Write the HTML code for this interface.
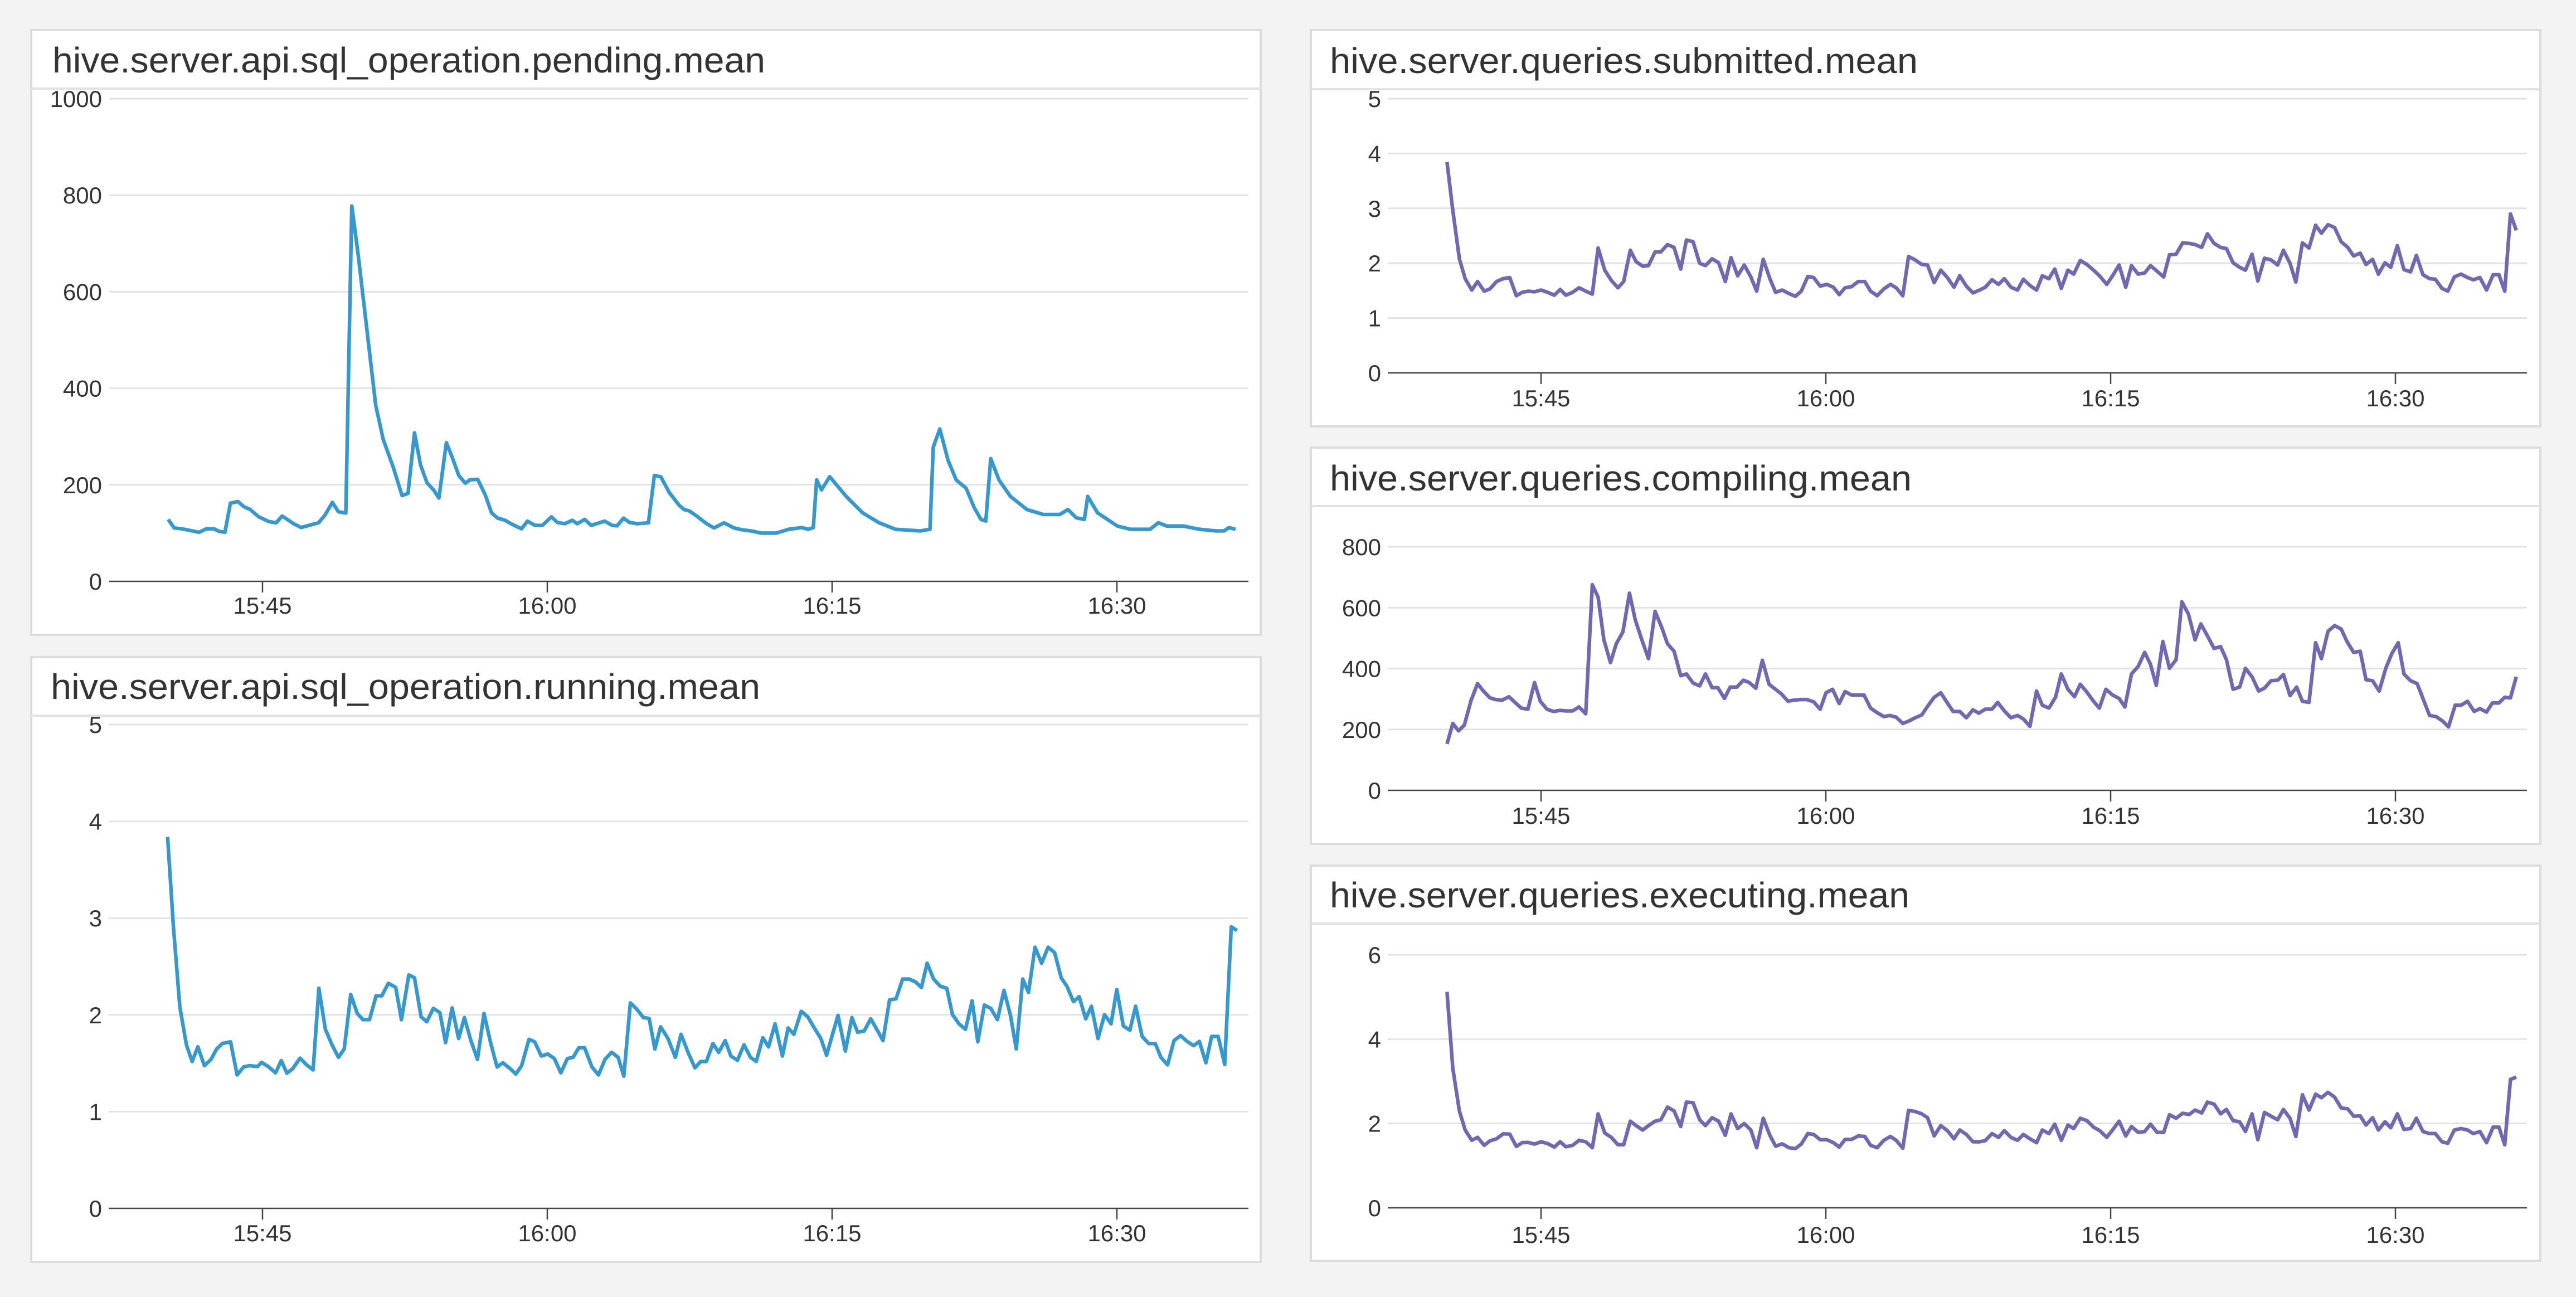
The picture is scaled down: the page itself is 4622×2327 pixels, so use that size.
<!DOCTYPE html>
<html><head><meta charset="utf-8"><style>
html,body{margin:0;padding:0;background:#f3f3f3;}
svg{display:block;}
text{font-family:"Liberation Sans",sans-serif;fill:#333;}
</style></head><body>
<svg id="s" xmlns="http://www.w3.org/2000/svg" width="4622" height="2327" viewBox="0 0 4622 2327"></svg>
<script>
var NS="http://www.w3.org/2000/svg",S=document.getElementById('s');
function el(t,a,txt){var e=document.createElementNS(NS,t);for(var k in a)e.setAttribute(k,a[k]);if(txt!=null)e.textContent=txt;S.appendChild(e);return e;}
function panel(p){
 el('rect',{x:p.l,y:p.t,width:p.r-p.l,height:p.b-p.t,fill:'#fff',stroke:'#dcdcdc','stroke-width':4});
 el('line',{x1:p.l,x2:p.r,y1:p.hb,y2:p.hb,stroke:'#e2e2e2','stroke-width':4});
 el('text',{x:p.tx,y:p.tb,'font-size':64,textLength:p.tw,lengthAdjust:'spacingAndGlyphs'},p.title);
 for(var i=0;i<p.ticks.length;i++){
  var v=p.ticks[i],y=p.y0+(p.y1-p.y0)*v/p.vmax;
  if(v>0)el('line',{x1:p.pl,x2:p.pr,y1:y,y2:y,stroke:'#e3e3e3','stroke-width':3});
  el('text',{x:p.lx,y:y+15,'font-size':42,'text-anchor':'end'},String(v));
 }
 el('line',{x1:p.pl,x2:p.pr,y1:p.y0,y2:p.y0,stroke:'#444','stroke-width':2.5});
 var tl=['15:45','16:00','16:15','16:30'];
 for(var j=0;j<4;j++){var x=p.t0+j*511;
  el('line',{x1:x,x2:x,y1:p.y0,y2:p.y0+20,stroke:'#444','stroke-width':2.5});
  el('text',{x:x,y:p.ly+15,'font-size':42,'text-anchor':'middle'},tl[j]);}
 var pts=[];for(var k=0;k<p.d.length;k+=2){pts.push(p.fx(p.d[k]).toFixed(1)+','+p.fy(p.d[k+1]).toFixed(1));}
 el('polyline',{points:pts.join(' '),fill:'none',stroke:p.c,'stroke-width':6.5,'stroke-linejoin':'round'});
}
var BLUE='#3599cf',PUR='#7467b1';
var pendZ=[338,1218,350,1238,365,1240,400,1248,415,1240,430,1240,440,1246,452,1248,463,1180,478,1176,490,1188,503,1195,520,1212,540,1223,555,1226,567,1210,590,1228,605,1237,640,1226,653,1208,668,1178,680,1200,695,1203,707,483,720,600,740,800,755,950,770,1030,790,1095,808,1162,820,1157,833,1015,845,1090,858,1132,872,1150,882,1168,897,1038,908,1070,922,1115,935,1133,945,1125,960,1124,975,1160,988,1203,1000,1215,1015,1220,1030,1230,1048,1240,1060,1222,1075,1232,1090,1232,1108,1212,1120,1225,1135,1228,1150,1220,1160,1228,1175,1218,1188,1232,1215,1222,1230,1232,1240,1233,1253,1215,1265,1225,1280,1228,1303,1226,1315,1115,1328,1118,1345,1155,1365,1185,1375,1195,1385,1198,1400,1210,1420,1228,1435,1238,1455,1226,1475,1238,1490,1242,1510,1245,1530,1250,1560,1250];
var pendM=[480,322,488,321,492,322,495,321,497,292,500,298,505,290,515,302,525,312,535,318,545,322,560,323,566,322,568,272,572,261,577,280,582,292,588,297,593,309,597,316,600,317,603,279,608,292,615,302,625,310,635,313,645,313,650,310,655,315,660,316,662,302,668,312,680,320,688,322,700,322,705,318,710,320,720,320,730,322,740,323,745,323,748,321,752,322];
var pend=[];for(var i=0;i<pendZ.length;i+=2)pend.push(pendZ[i]/1.12,pendZ[i+1]/1.307);
for(var i=0;i<pendM.length;i+=2)pend.push(pendM[i]*2.948,pendM[i+1]*2.949);
panel({l:56,t:54,r:2262,b:1139,hb:159,tx:94,tb:130,tw:1279,title:'hive.server.api.sql_operation.pending.mean',
 pl:196,pr:2240,y0:1043,y1:177,vmax:1000,ticks:[0,200,400,600,800,1000],lx:183,t0:471,ly:1086,c:BLUE,d:pend,
 fx:function(x){return x},fy:function(y){return y}});
var run=[205,468,212,680,220,875,228,965,235,1005,242,970,250,1015,258,1000,265,975,272,962,282,958,290,1037,298,1018,305,1015,315,1017,320,1007,328,1017,337,1032,344,1003,351,1033,358,1022,367,997,375,1013,383,1025,390,830,398,928,406,965,414,995,421,975,429,845,437,890,444,905,452,905,460,848,467,848,475,818,484,828,491,905,500,798,507,805,515,898,522,910,530,878,538,888,545,960,553,877,561,950,568,900,576,955,584,1000,592,890,600,960,608,1018,615,1008,624,1022,631,1035,638,1015,647,952,654,958,662,992,670,987,678,998,686,1032,694,998,701,995,708,972,715,972,724,1018,732,1037,740,1000,748,983,756,995,763,1040,771,865,778,878,787,900,794,902,801,975,808,922,817,950,826,995,833,940,842,985,850,1020,857,1005,864,1005,872,962,879,983,887,955,894,992,902,1002,910,965,918,995,925,1005,933,948,940,970,948,915,957,992,964,925,971,940,980,885,988,898,996,925,1004,950,1011,990,1018,942,1025,895,1034,980,1042,900,1049,935,1057,932,1065,903,1073,930,1080,955,1088,858,1096,855,1104,808,1112,808,1120,815,1127,828,1134,770,1142,808,1150,825,1158,830,1165,893,1173,915,1181,928,1189,860,1196,958,1204,870,1212,878,1220,905,1228,835,1236,895,1243,975,1251,808,1258,840,1266,732,1274,770,1282,732,1290,745,1298,805,1305,825,1313,862,1320,850,1328,903,1335,873,1343,950,1351,893,1359,915,1366,833,1374,920,1382,930,1389,873,1397,945,1405,962,1413,962,1420,995,1428,1013,1436,955,1444,943,1452,957,1460,967,1467,957,1475,1008,1482,945,1490,945,1498,1012,1506,683,1513,692];
panel({l:56,t:1179,r:2262,b:2264,hb:1284,tx:91,tb:1254,tw:1273,title:'hive.server.api.sql_operation.running.mean',
 pl:195,pr:2240,y0:2168,y1:1300,vmax:5,ticks:[0,1,2,3,4,5],lx:183,t0:471,ly:2212,c:BLUE,d:run,
 fx:function(x){return x/0.6817},fy:function(y){return y/1.332+1150}});
var sub=[200,285,207,370,215,455,222,490,230,510,237,495,245,512,252,508,260,495,268,490,276,488,284,520,291,514,298,512,306,513,314,510,322,514,330,519,337,509,344,519,352,514,360,506,368,512,376,517,383,436,391,475,399,493,407,506,414,495,422,440,429,460,437,468,444,467,452,443,459,443,467,430,475,435,483,473,490,422,498,425,506,463,513,467,521,455,529,462,537,495,544,453,552,485,560,466,568,487,575,512,583,456,591,490,598,514,606,510,614,516,622,521,629,512,637,486,644,488,652,503,660,500,668,505,675,518,682,506,690,504,698,495,706,495,713,512,721,520,729,508,737,500,744,506,752,520,759,451,767,457,775,465,782,466,790,497,798,475,806,488,814,505,821,485,829,503,837,515,845,510,852,505,860,492,868,500,875,490,883,505,891,510,898,491,906,502,914,510,921,485,929,490,936,473,944,507,952,475,959,482,967,458,975,465,983,475,991,486,999,500,1006,485,1014,466,1022,505,1029,467,1037,482,1045,480,1052,467,1060,477,1068,487,1075,448,1083,447,1091,427,1099,428,1106,430,1114,435,1121,411,1129,428,1137,435,1144,437,1152,462,1160,470,1167,475,1175,447,1182,494,1190,454,1198,457,1206,466,1213,440,1221,463,1228,496,1236,427,1244,436,1252,396,1259,410,1267,395,1275,400,1283,425,1291,435,1298,450,1306,445,1313,465,1321,456,1328,482,1336,462,1343,470,1351,432,1359,474,1367,478,1374,449,1382,483,1390,490,1397,491,1405,507,1412,512,1420,487,1428,482,1436,488,1443,492,1451,488,1459,510,1467,483,1474,483,1481,512,1488,376,1495,405];
var fxR=function(x){return 2300+x/0.675},fyR=function(y){return y/0.98};
panel({l:2352,t:54,r:4558,b:765,hb:160,tx:2386,tb:131,tw:1055,title:'hive.server.queries.submitted.mean',
 pl:2490,pr:4534,y0:669,y1:177,vmax:5,ticks:[0,1,2,3,4,5],lx:2478,t0:2765,ly:714,c:PUR,d:sub,fx:fxR,fy:fyR});
var comp=[200,1308,207,1272,214,1285,221,1275,229,1232,237,1202,244,1215,252,1227,259,1230,267,1231,275,1225,283,1236,290,1245,298,1247,306,1200,313,1233,321,1247,329,1251,337,1249,344,1250,352,1250,360,1243,368,1255,376,1028,383,1050,390,1125,398,1165,405,1132,413,1111,421,1043,428,1090,436,1125,444,1158,452,1075,460,1103,467,1132,475,1145,483,1188,490,1185,498,1201,506,1206,513,1185,521,1209,528,1209,536,1228,543,1208,551,1208,559,1196,566,1200,574,1210,582,1161,590,1203,597,1211,605,1220,613,1233,620,1231,628,1230,636,1230,644,1234,652,1247,659,1218,667,1212,675,1237,682,1216,690,1222,698,1222,705,1222,713,1245,721,1253,729,1260,736,1258,744,1261,752,1272,759,1268,767,1262,775,1257,782,1242,790,1226,798,1218,806,1236,813,1251,821,1251,829,1262,837,1248,844,1254,852,1247,860,1247,867,1235,875,1250,883,1262,891,1258,898,1264,906,1277,914,1215,921,1240,929,1245,937,1226,944,1185,952,1212,960,1225,967,1203,975,1217,983,1233,990,1245,998,1212,1006,1222,1014,1228,1021,1243,1029,1185,1037,1172,1045,1147,1052,1168,1059,1205,1067,1128,1075,1175,1083,1160,1090,1058,1098,1080,1106,1125,1113,1097,1121,1118,1129,1140,1137,1137,1144,1160,1152,1212,1160,1208,1167,1175,1175,1190,1183,1215,1190,1210,1198,1197,1206,1196,1213,1186,1221,1223,1229,1208,1236,1233,1244,1235,1252,1130,1259,1158,1267,1110,1275,1100,1283,1106,1290,1128,1298,1147,1306,1145,1313,1195,1321,1197,1329,1215,1337,1175,1344,1150,1352,1130,1359,1185,1367,1197,1375,1202,1383,1232,1390,1258,1398,1260,1406,1268,1413,1278,1421,1240,1428,1240,1436,1233,1444,1251,1451,1246,1459,1252,1466,1236,1474,1236,1481,1226,1488,1227,1495,1190];
panel({l:2352,t:803,r:4558,b:1514,hb:908,tx:2386,tb:880,tw:1044,title:'hive.server.queries.compiling.mean',
 pl:2490,pr:4534,y0:1418,y1:981,vmax:800,ticks:[0,200,400,600,800],lx:2478,t0:2765,ly:1463,c:PUR,d:comp,fx:fxR,fy:fyR});
var exe=[200,530,207,790,215,935,222,1000,230,1035,237,1025,245,1052,252,1037,260,1030,268,1013,276,1014,284,1056,291,1043,298,1042,306,1048,314,1040,322,1046,330,1058,337,1040,344,1057,352,1052,360,1035,368,1040,376,1060,383,945,391,1010,399,1025,407,1050,414,1050,422,970,429,985,437,1000,444,985,452,970,459,965,467,922,475,935,483,988,490,905,498,907,506,965,513,985,521,958,529,970,537,1018,544,945,552,995,560,978,568,1000,575,1060,583,960,591,1018,598,1055,606,1047,614,1060,622,1063,629,1048,637,1012,644,1015,652,1033,660,1033,668,1043,675,1058,682,1032,690,1032,698,1020,706,1022,713,1052,721,1060,729,1035,737,1022,744,1035,752,1062,759,933,767,937,775,945,782,958,790,1020,798,985,806,1002,814,1030,821,1000,829,1015,837,1040,845,1040,852,1036,860,1012,868,1025,875,1002,883,1025,891,1035,898,1015,906,1030,914,1043,921,1000,929,1012,936,980,944,1035,952,983,959,995,967,960,975,968,983,990,991,1003,999,1025,1006,1000,1014,970,1022,1020,1029,988,1037,1008,1045,1005,1052,980,1060,1008,1068,1008,1075,948,1083,960,1091,943,1099,947,1106,932,1114,942,1121,905,1129,912,1137,945,1144,930,1152,968,1160,972,1167,1005,1175,945,1182,1033,1190,940,1198,953,1206,965,1213,930,1221,960,1228,1022,1236,880,1244,932,1252,878,1259,890,1267,872,1275,888,1283,925,1291,928,1298,953,1306,952,1313,983,1321,958,1328,1000,1336,972,1343,992,1351,945,1359,998,1367,995,1374,960,1382,1005,1390,1012,1397,1012,1405,1040,1412,1045,1420,1000,1428,995,1436,1000,1443,1012,1451,1005,1459,1043,1467,990,1474,990,1481,1050,1488,828,1495,820];
panel({l:2352,t:1553,r:4558,b:2262,hb:1657,tx:2386,tb:1628,tw:1040,title:'hive.server.queries.executing.mean',
 pl:2490,pr:4534,y0:2167,y1:1713,vmax:6,ticks:[0,2,4,6],lx:2478,t0:2765,ly:2215,c:PUR,d:exe,
 fx:fxR,fy:function(y){return 1500+y/1.896}});
</script>
</body></html>
